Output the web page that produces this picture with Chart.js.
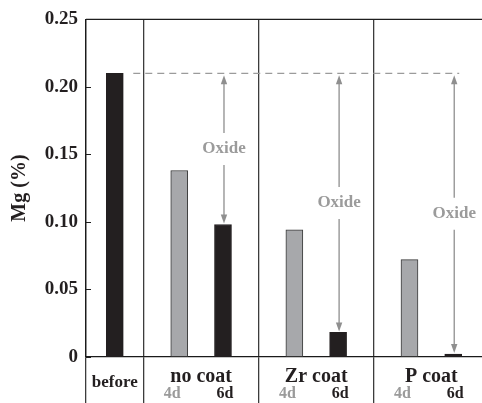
<!DOCTYPE html>
<html>
<head>
<meta charset="utf-8">
<script src="https://cdn.jsdelivr.net/npm/chart.js@4.4.1/dist/chart.umd.min.js"></script>
<style>
  html, body { margin: 0; padding: 0; background: #fff; }
  #wrap { width: 482px; height: 403px; position: relative; }
</style>
</head>
<body>
<div id="wrap"><canvas id="c"></canvas></div>
<script>
// Mg content before exposure and after 4 / 6 days, per coating
const GROUPS = ['before', 'no coat', 'Zr coat', 'P coat'];
const DAYS = ['4d', '6d'];
const BEFORE_MG = 0.21;
const MG_4D = [0.138, 0.094, 0.072];
const MG_6D = [0.098, 0.018, 0.002];
const Y_TICKS = [0, 0.05, 0.10, 0.15, 0.20, 0.25];
const Y_TITLE = 'Mg (%)';
const OXIDE_LABEL = 'Oxide';

// x layout: each coating group takes one unit, the "before" column half a unit
const BEFORE_POS = 0.25;
const GROUP_POS = [1, 2, 3];
const DAY_OFFSET = 0.19;
const DIVIDERS = [0, 0.5, 1.5, 2.5];
const X_MAX = 3.44;

const SERIF = '"Liberation Serif", "Times New Roman", serif';
const BLACK = '#231f20';
const GREY_BAR = '#a7a8ab';
const GREY_TEXT = '#9b9b9b';
const GREY_ARROW = '#8f8f8f';

const beforeData = [{ x: BEFORE_POS, y: BEFORE_MG }];
const day4Data = GROUP_POS.map((p, i) => ({ x: p - DAY_OFFSET, y: MG_4D[i] }));
const day6Data = GROUP_POS.map((p, i) => ({ x: p + DAY_OFFSET, y: MG_6D[i] }));

function arrowHead(ctx, x, y, dir) {
  // tip at (x, y); dir = -1 points up, +1 points down
  ctx.beginPath();
  ctx.moveTo(x, y);
  ctx.lineTo(x - 3.2, y - dir * 9);
  ctx.lineTo(x + 3.2, y - dir * 9);
  ctx.closePath();
  ctx.fill();
}

const decorations = {
  id: 'decorations',
  afterDatasetsDraw(chart) {
    const { ctx, chartArea: area, scales: { x, y } } = chart;
    ctx.save();

    // frame line along the top
    ctx.strokeStyle = '#1e1e1e';
    ctx.lineWidth = 1.3;
    ctx.beginPath();
    ctx.moveTo(area.left, area.top);
    ctx.lineTo(area.right, area.top);
    ctx.stroke();

    // inward tick marks on the value axis
    ctx.lineWidth = 1;
    y.ticks.forEach(t => {
      const py = Math.round(y.getPixelForValue(t.value)) + 0.5;
      ctx.beginPath();
      ctx.moveTo(area.left, py);
      ctx.lineTo(area.left + 5, py);
      ctx.stroke();
    });

    // dashed reference level at the initial Mg content
    const beforeBar = chart.getDatasetMeta(0).data[0];
    const bars6 = chart.getDatasetMeta(2).data;
    const bars4 = chart.getDatasetMeta(1).data;
    const yRef = y.getPixelForValue(BEFORE_MG);
    ctx.strokeStyle = GREY_TEXT;
    ctx.lineWidth = 1.3;
    ctx.setLineDash([7, 5]);
    ctx.beginPath();
    ctx.moveTo(beforeBar.x + beforeBar.width / 2 + 10, yRef);
    ctx.lineTo(bars6[bars6.length - 1].x + 6, yRef);
    ctx.stroke();
    ctx.setLineDash([]);

    // oxide arrows from the reference level down to the 6-day bars
    ctx.font = 'bold 17px ' + SERIF;
    ctx.textAlign = 'center';
    ctx.textBaseline = 'middle';
    bars6.forEach((bar, i) => {
      const ax = bar.x + 1;
      const top = yRef + 2;
      const bottom = y.getPixelForValue(MG_6D[i]) - 1;
      const mid = y.getPixelForValue((BEFORE_MG + MG_6D[i]) / 2);
      ctx.strokeStyle = GREY_ARROW;
      ctx.fillStyle = GREY_ARROW;
      ctx.lineWidth = 1.3;
      ctx.beginPath();
      ctx.moveTo(ax, top + 6);
      ctx.lineTo(ax, mid - 16);
      ctx.moveTo(ax, mid + 16);
      ctx.lineTo(ax, bottom - 6);
      ctx.stroke();
      arrowHead(ctx, ax, top, -1);
      arrowHead(ctx, ax, bottom, 1);
      ctx.fillStyle = GREY_TEXT;
      ctx.fillText(OXIDE_LABEL, ax, mid);
    });

    // category labels under the axis
    const base = area.bottom;
    ctx.textBaseline = 'alphabetic';
    ctx.fillStyle = BLACK;
    ctx.font = 'bold 17px ' + SERIF;
    ctx.fillText(GROUPS[0], x.getPixelForValue(BEFORE_POS), base + 30.5);
    ctx.font = 'bold 20px ' + SERIF;
    GROUP_POS.forEach((p, i) => {
      ctx.fillText(GROUPS[i + 1], x.getPixelForValue(p), base + 25);
    });
    ctx.font = 'bold 16px ' + SERIF;
    bars4.forEach(bar => {
      ctx.fillStyle = GREY_TEXT;
      ctx.fillText(DAYS[0], bar.x - 7, base + 41.5);
    });
    bars6.forEach(bar => {
      ctx.fillStyle = BLACK;
      ctx.fillText(DAYS[1], bar.x + 2, base + 41.5);
    });
    ctx.restore();
  }
};

const barCommon = {
  barThickness: 17,
  grouped: false,
  borderWidth: 1,
  borderSkipped: false
};

new Chart(document.getElementById('c'), {
  type: 'bar',
  data: {
    datasets: [
      Object.assign({ label: GROUPS[0], data: beforeData, backgroundColor: BLACK, borderColor: BLACK }, barCommon),
      Object.assign({ label: DAYS[0], data: day4Data, backgroundColor: GREY_BAR, borderColor: '#3a3a3a' }, barCommon),
      Object.assign({ label: DAYS[1], data: day6Data, backgroundColor: BLACK, borderColor: BLACK }, barCommon)
    ]
  },
  options: {
    responsive: true,
    maintainAspectRatio: false,
    animation: false,
    layout: { padding: { top: 15, right: 0, bottom: 0, left: 0 } },
    plugins: { legend: { display: false }, tooltip: { enabled: false } },
    scales: {
      x: {
        type: 'linear',
        min: 0,
        max: X_MAX,
        offset: false,
        afterBuildTicks: s => { s.ticks = DIVIDERS.map(v => ({ value: v })); },
        afterFit: s => { s.height = 46.3; },
        ticks: { display: false },
        grid: { offset: false, color: '#3c3c3c', lineWidth: 1.3, drawTicks: true, tickLength: 47 },
        border: { color: '#1a1a1a', width: 1.3 }
      },
      y: {
        min: 0,
        max: 0.25,
        afterBuildTicks: s => { s.ticks = Y_TICKS.map(v => ({ value: v })); },
        afterFit: s => { s.width = 86; },
        ticks: {
          padding: 8,
          color: BLACK,
          font: { family: SERIF, size: 19, weight: 'bold' },
          callback: v => (v === 0 ? '0' : v.toFixed(2))
        },
        grid: { display: false, drawTicks: false },
        border: { color: '#1a1a1a', width: 1.3 },
        title: {
          display: true,
          text: Y_TITLE,
          color: BLACK,
          font: { family: SERIF, size: 20, weight: 'bold' },
          padding: { top: 8, bottom: 0 }
        }
      }
    }
  },
  plugins: [decorations]
});
</script>
</body>
</html>
